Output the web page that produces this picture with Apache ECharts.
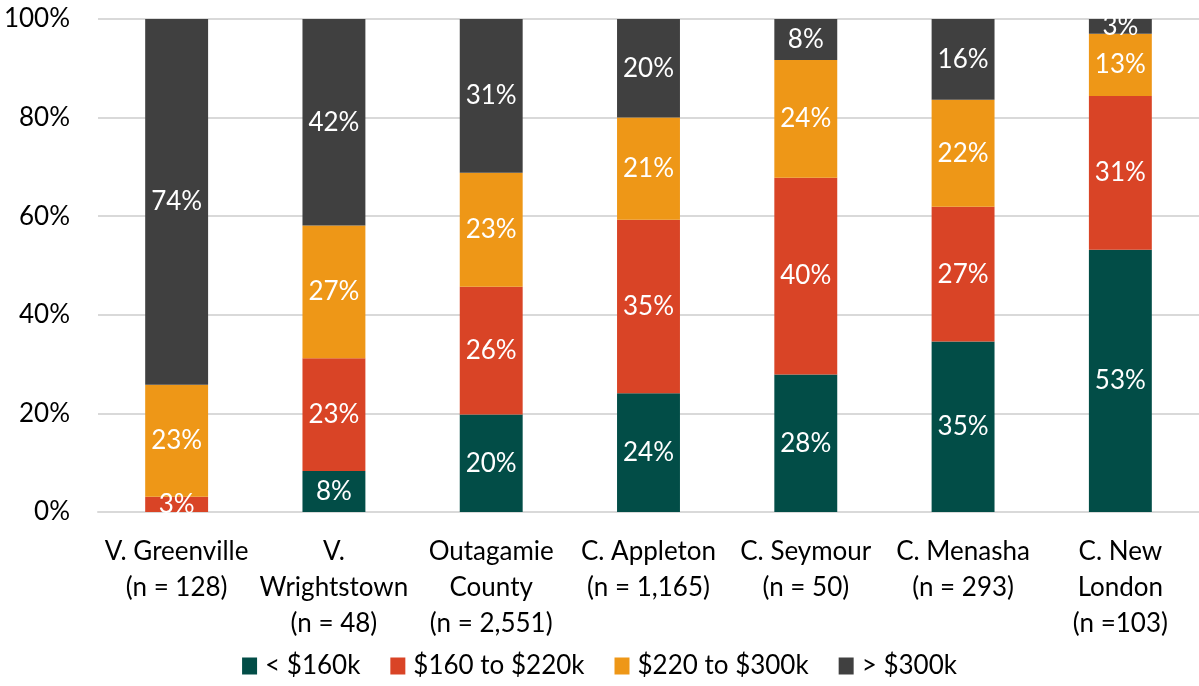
<!DOCTYPE html>
<html>
<head>
<meta charset="utf-8">
<script src="https://cdn.jsdelivr.net/npm/echarts@6/dist/echarts.min.js"></script>
<style>
  html, body { margin: 0; padding: 0; background: #fff; }
  #main { width: 1199px; height: 686px; }
</style>
</head>
<body>
<div id="main"></div>
<script>
// categories (x axis)
var categories = [
  'V. Greenville\n(n = 128)',
  'V.\nWrightstown\n(n = 48)',
  'Outagamie\nCounty\n(n = 2,551)',
  'C. Appleton\n(n = 1,165)',
  'C. Seymour\n(n = 50)',
  'C. Menasha\n(n = 293)',
  'C. New\nLondon\n(n =103)'
];

// series values (percent of homes)
var under160 = [0, 8.3, 19.8, 24.1, 27.9, 34.6, 53.2];
var from160to220 = [3.1, 22.9, 25.9, 35.2, 39.9, 27.3, 31.2];
var from220to300 = [22.7, 26.9, 23.1, 20.7, 23.9, 21.7, 12.6];
var over300 = [74.2, 41.9, 31.2, 20.0, 8.3, 16.4, 3.0];

var seriesNames = ['< $160k', '$160 to $220k', '$220 to $300k', '> $300k'];
var colors = ['#024D47', '#D94426', '#EE9717', '#404040'];

var font = 'Lato, "Open Sans", sans-serif';

function makeSeries(name, data, color) {
  return {
    name: name,
    type: 'bar',
    stack: 'total',
    barWidth: '40%',
    data: data,
    itemStyle: { color: color },
    label: {
      show: true,
      position: 'inside',
      color: '#fff',
      fontSize: 26,
      fontFamily: font,
      formatter: function (p) {
        if (p.value <= 0) return '';
        return Math.round(p.value) + '%';
      }
    }
  };
}

var myChart = echarts.init(document.getElementById('main'));
var option = {
  animation: false,
  color: colors,
  grid: { left: 98, right: 0, top: 19, bottom: 174 },
  legend: {
    bottom: 2,
    left: 'center',
    icon: 'rect',
    itemWidth: 15,
    itemHeight: 17,
    itemGap: 30,
    textStyle: { fontSize: 26, fontFamily: font, color: '#000', padding: [0, 0, 0, 3] },
    data: seriesNames
  },
  xAxis: {
    type: 'category',
    data: categories,
    axisLine: { lineStyle: { color: '#d9d9d9', width: 2 } },
    axisTick: { show: false },
    axisLabel: {
      interval: 0,
      color: '#000',
      fontSize: 26,
      fontFamily: font,
      lineHeight: 36,
      margin: 22
    }
  },
  yAxis: {
    type: 'value',
    min: 0,
    max: 100,
    interval: 20,
    axisLine: { show: false },
    axisTick: { show: false },
    splitLine: { lineStyle: { color: '#d9d9d9', width: 2 } },
    axisLabel: {
      color: '#000',
      fontSize: 26,
      fontFamily: font,
      margin: 28,
      formatter: '{value}%'
    }
  },
  series: [
    makeSeries(seriesNames[0], under160, colors[0]),
    makeSeries(seriesNames[1], from160to220, colors[1]),
    makeSeries(seriesNames[2], from220to300, colors[2]),
    makeSeries(seriesNames[3], over300, colors[3])
  ]
};
myChart.setOption(option);
</script>
</body>
</html>
